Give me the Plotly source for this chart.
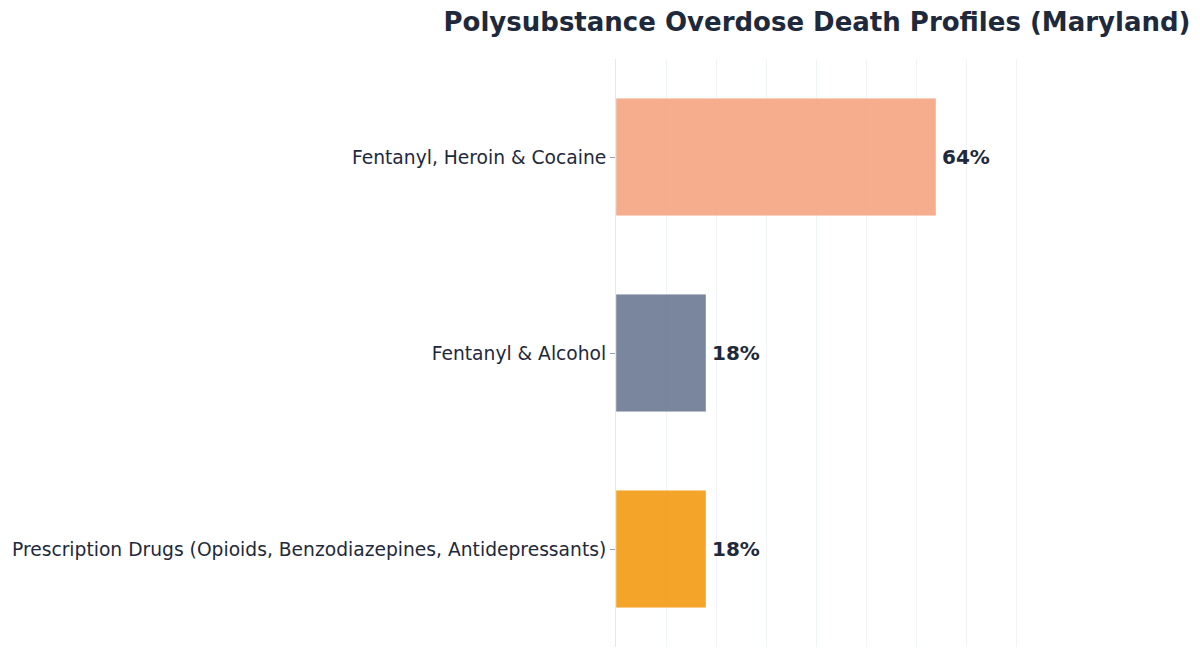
import plotly.graph_objects as go

categories = [
    "Fentanyl, Heroin & Cocaine",
    "Fentanyl & Alcohol",
    "Prescription Drugs (Opioids, Benzodiazepines, Antidepressants)",
]
shares = [64, 18, 18]
bar_colors = ["#F4A582", "#6B7A93", "#F39C12"]
value_labels = [f"{v}%" for v in shares]

fig = go.Figure(
    go.Bar(
        x=shares,
        y=categories,
        orientation="h",
        marker=dict(color=bar_colors, opacity=0.9,
                    line=dict(width=1, color="rgba(255,255,255,0.4)")),
        hoverinfo="skip",
    )
)

# value labels just past the bar ends
for cat, val, lab in zip(categories, shares, value_labels):
    fig.add_annotation(
        x=val, y=cat, text=f"<b>{lab}</b>", showarrow=False,
        xanchor="left", yanchor="middle", xshift=4,
        font=dict(family="DejaVu Sans", size=20, color="#1E293B"),
    )

fig.update_layout(
    title=dict(
        text="<b>Polysubstance Overdose Death Profiles (Maryland)</b>",
        font=dict(family="DejaVu Sans", size=26, color="#1E293B"),
        x=0.5, xref="paper", xanchor="center", y=0.979, yanchor="middle",
    ),
    width=1200, height=658,
    paper_bgcolor="#FFFFFF", plot_bgcolor="#FFFFFF",
    margin=dict(l=608, r=190, t=51, b=19, autoexpand=False),
    bargap=0.4,
    showlegend=False,
    font=dict(family="DejaVu Sans", size=18.7, color="#1E293B"),
)

fig.update_xaxes(
    range=[0, 80.4], tickvals=list(range(10, 81, 10)), showticklabels=False,
    showgrid=True, gridcolor="rgba(226,232,240,0.5)", gridwidth=1,
    zeroline=False, showline=False,
)
fig.update_yaxes(
    autorange="reversed", automargin=False,
    showline=True, linecolor="#E2E8F0", linewidth=1,
    ticks="outside", ticklen=5, tickcolor="#94A3B8",
    showgrid=False,
    tickfont=dict(family="DejaVu Sans", size=18.7, color="#1E293B"),
)

fig.write_html("out.html")
